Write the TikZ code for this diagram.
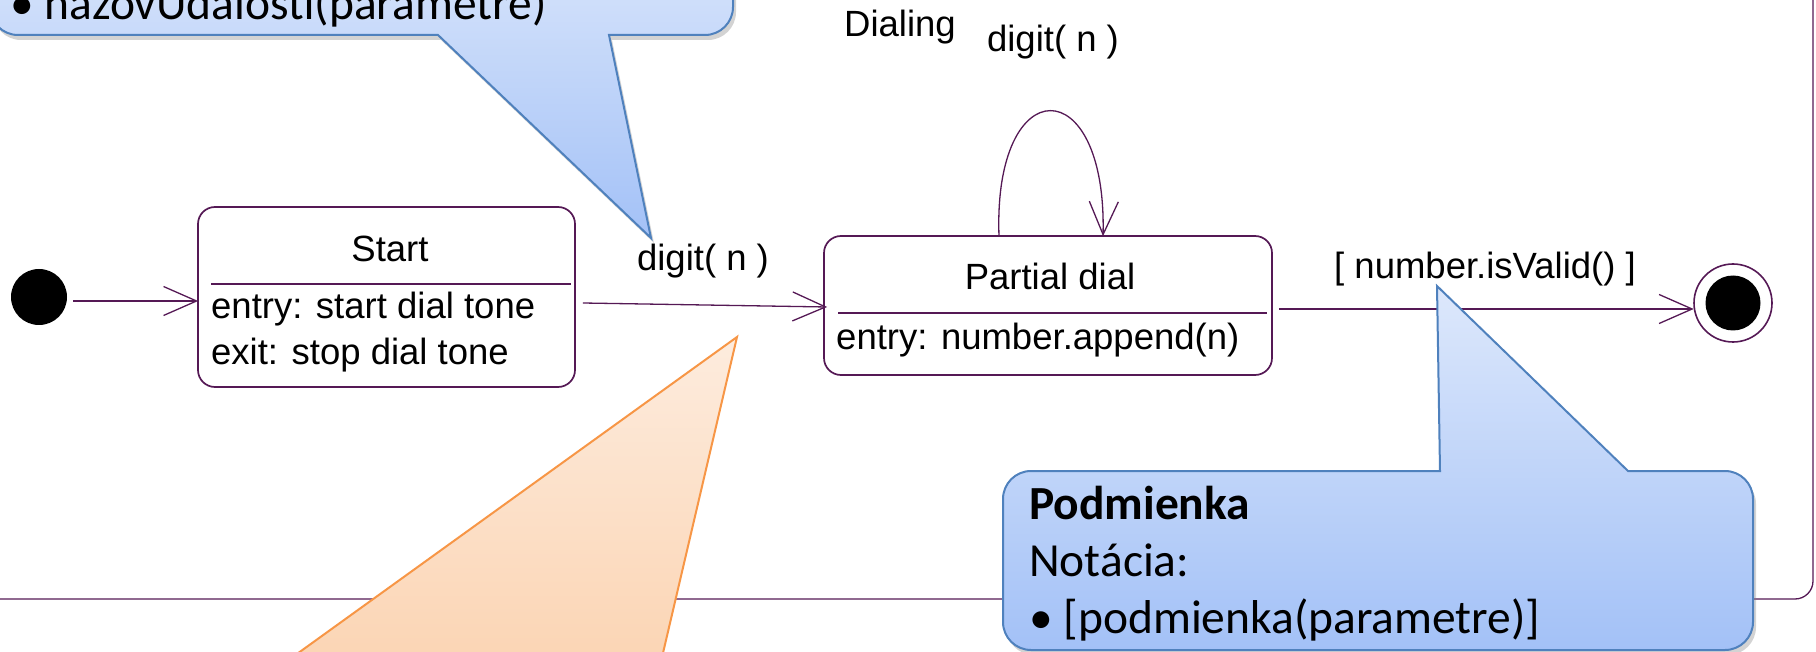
\documentclass[tikz,border=0pt]{standalone}
\usepackage{fontspec}
\usepackage{xcolor}
\usepackage{tikz}
\usetikzlibrary{positioning,calc,arrows.meta,shadows}
\newfontfamily\umlfont{Liberation Sans}
\newfontfamily\notefont{Carlito}
\definecolor{umlline}{RGB}{85,25,85}
\definecolor{noteblue}{RGB}{79,129,189}
\definecolor{notetop}{RGB}{221,232,251}
\definecolor{notebot}{RGB}{163,193,247}
\definecolor{tipline}{RGB}{247,150,70}
\definecolor{tiptop}{RGB}{253,236,222}
\definecolor{tipbot}{RGB}{251,210,175}

\begin{document}
\begin{tikzpicture}[x=1pt, y=-1pt,
    state/.style={draw=umlline, line width=1.7pt, rounded corners=17pt, inner sep=0pt},
    trans/.style={draw=umlline, line width=1.3pt, -{Straight Barb[length=33pt, width=29pt, line width=1.3pt]}},
    umltxt/.style={font=\umlfont\fontsize{36.5}{42}\selectfont, inner sep=0pt},
    notetxt/.style={font=\notefont\fontsize{47.5}{57}\selectfont, inner sep=0pt},
    bluenote/.style={draw=noteblue, line width=2pt, top color=notetop, bottom color=notebot, drop shadow={opacity=0.35, shadow xshift=3pt, shadow yshift=-5pt}},
    tipnote/.style={draw=tipline, line width=2pt, top color=tiptop, bottom color=tipbot}]
    \useasboundingbox (0,0) rectangle (1816,652);
    \clip (0,0) rectangle (1816,652);

    \node[state, line width=1.3pt, rounded corners=18pt, minimum width=1853pt, minimum height=639pt] (dialbox) at (886.5,279.5) {};
    \node[umltxt, anchor=base] (dialname) at (900,37) {Dialing};

    \node[circle, fill=black, minimum size=56pt, inner sep=0pt] (init) at (39,297) {};
    \node[state, minimum width=377pt, minimum height=180pt] (start) at (386.5,297) {};
    \node[state, minimum width=448pt, minimum height=139pt] (partial) at (1048,305.5) {};
    \node[circle, draw=umlline, line width=1.6pt, minimum size=78pt, inner sep=0pt] (final) at (1733,303) {};
    \node[circle, fill=black, minimum size=55pt, inner sep=0pt] (finaldot) at (final) {};

    \draw[umlline, line width=1.6pt] ([shift={(14,-13)}]start.west) -- ([shift={(-5,-13)}]start.east);
    \draw[umlline, line width=1.6pt] ([shift={(15,7.5)}]partial.west) -- ([shift={(-6,7.5)}]partial.east);
    \node[umltxt, anchor=base] (starttitle) at (390,262) {Start};
    \node[umltxt, anchor=base west] (startentry) at (211,319) {entry: start dial tone};
    \node[umltxt, anchor=base west] (startexit) at (211,365) {exit: stop dial tone};
    \node[umltxt, anchor=base] (partialtitle) at (1050,290) {Partial dial};
    \node[umltxt, anchor=base west] (partialentry) at (836,350) {entry: number.append(n)};

    \draw[trans] ([shift={(6,4)}]init.east) -- ([shift={(1,4)}]start.west);
    \draw[trans] ([shift={(7,6)}]start.east) -- ([shift={(4,1.5)}]partial.west);
    \draw[trans] ([shift={(-49,1)}]partial.north) .. controls +(-6,-167) and +(4,-167) .. ([shift={(55,1)}]partial.north);
    \draw[trans] ([shift={(6,3.5)}]partial.east) -- ([shift={(0.5,6)}]final.west);
    \node[umltxt, anchor=base] (digitlbl) at (703,271) {digit( n )};
    \node[umltxt, anchor=base] (looplbl) at (1053,52) {digit( n )};
    \node[umltxt, anchor=base] (guardlbl) at (1485,279) {[ number.isValid() ]};

    \path[bluenote] (200,35) -- (438,35) -- (651,238) -- (609,35) [rounded corners=28pt] -- (733,35) -- (733,-80) -- (-10,-80) -- (-10,35) -- cycle;
    \node[notetxt, anchor=base west] (evform) at (10,20) {• nazovUdalosti(parametre)};

    \path[tipnote] (737,337) -- (233,700) -- (652,700) -- cycle;

    \path[bluenote] (1200,471) -- (1440,471) -- (1437,286) -- (1628,471) [rounded corners=28pt] -- (1753,471) -- (1753,650) -- (1003,650) -- (1003,471) -- cycle;
    \node[notetxt, anchor=base west] (condtitle) at (1029,519) {\textbf{Podmienka}};
    \node[notetxt, anchor=base west] (condnot) at (1029,576) {Notácia:};
    \node[notetxt, anchor=base west] (condform) at (1029,633) {• [podmienka(parametre)]};
\end{tikzpicture}
\end{document}
